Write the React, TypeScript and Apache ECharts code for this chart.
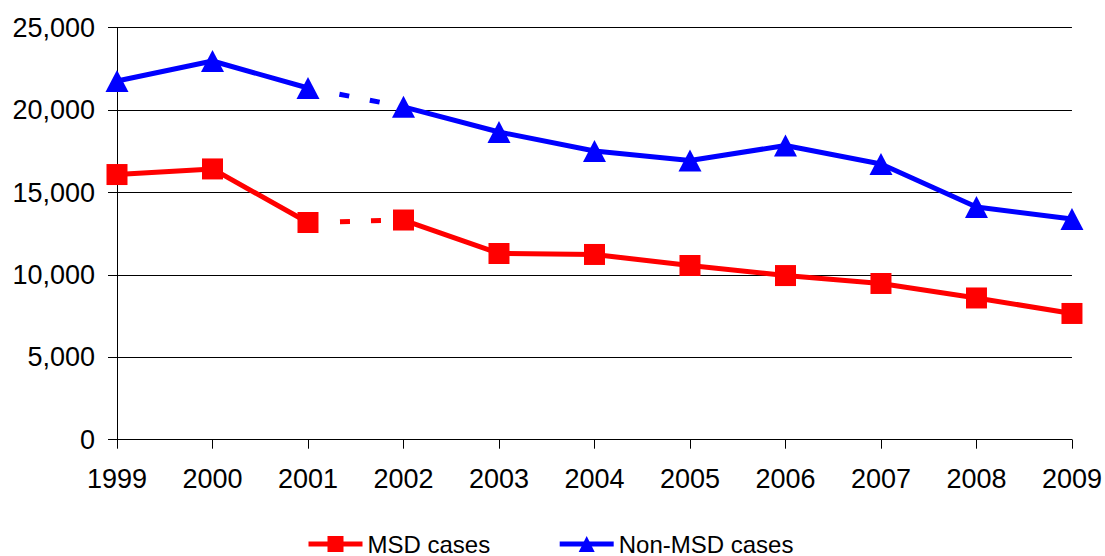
import React, { useEffect, useRef } from "react";
import * as echarts from "echarts";

// Years on the horizontal axis
const years = ["1999", "2000", "2001", "2002", "2003", "2004", "2005", "2006", "2007", "2008", "2009"];

// Case counts per year
const msdCases = [16090, 16430, 13180, 13330, 11300, 11240, 10570, 9960, 9480, 8600, 7660];
const nonMsdCases = [21770, 22980, 21340, 20200, 18670, 17520, 16940, 17850, 16730, 14120, 13390];

// Value axis ticks
const yTicks = [0, 5000, 10000, 15000, 20000, 25000];

// Index where the series break: 2001 -> 2002 is drawn as a dashed bridge
const breakAfter = 2;

const FONT = "'Liberation Sans', Arial, sans-serif";
const RED = "#ff0000";
const BLUE = "#0000ff";

function before(values: number[]) {
  return values.map((v, i) => (i <= breakAfter ? v : null));
}
function after(values: number[]) {
  return values.map((v, i) => (i > breakAfter ? v : null));
}
function bridge(values: number[]) {
  return values.map((v, i) => (i === breakAfter || i === breakAfter + 1 ? v : null));
}

function solid(name: string, data: (number | null)[], color: string, symbol: string, size: number | number[]) {
  return {
    name,
    type: "line",
    data,
    symbol,
    symbolSize: size,
    showSymbol: true,
    connectNulls: false,
    z: 3,
    lineStyle: { color, width: 5 },
    itemStyle: { color, opacity: 1 },
    emphasis: { disabled: true },
  };
}

function dashed(name: string, data: (number | null)[], color: string) {
  return {
    name,
    type: "line",
    data,
    symbol: "none",
    showSymbol: false,
    z: 2,
    lineStyle: { color, width: 5, type: [0, 32, 10, 21, 10, 400], cap: "butt" },
    emphasis: { disabled: true },
  };
}

export default function App() {
  const ref = useRef<HTMLDivElement>(null);

  useEffect(() => {
    if (!ref.current) return;
    const chart = echarts.init(ref.current, undefined, { renderer: "svg" });
    chart.setOption({
      animation: false,
      backgroundColor: "#ffffff",
      textStyle: { fontFamily: FONT },
      grid: { left: 117, right: 32, top: 27.7, bottom: 116.3, containLabel: false },
      legend: {
        data: ["MSD cases", "Non-MSD cases"],
        left: 301,
        top: 527,
        itemWidth: 54,
        itemHeight: 20,
        itemGap: 67,
        lineStyle: { width: 5 },
        textStyle: { fontFamily: FONT, fontSize: 24, color: "#000" },
        selectedMode: false,
      },
      xAxis: {
        type: "category",
        data: years,
        boundaryGap: false,
        axisLine: { lineStyle: { color: "#000", width: 1 } },
        axisTick: { show: true, length: 9, lineStyle: { color: "#000" } },
        axisLabel: { fontFamily: FONT, fontSize: 27, color: "#000", margin: 26 },
        splitLine: { show: false },
      },
      yAxis: {
        type: "value",
        min: yTicks[0],
        max: yTicks[yTicks.length - 1],
        interval: yTicks[1] - yTicks[0],
        axisLine: { show: true, lineStyle: { color: "#000", width: 1 } },
        axisTick: { show: true, length: 9, lineStyle: { color: "#000" } },
        axisLabel: {
          fontFamily: FONT,
          fontSize: 27,
          color: "#000",
          margin: 22,
          formatter: (v: number) => v.toLocaleString("en-US"),
        },
        splitLine: { show: true, lineStyle: { color: "#000", width: 1 } },
      },
      series: [
        solid("MSD cases", before(msdCases), RED, "rect", 21),
        solid("MSD cases", after(msdCases), RED, "rect", 21),
        dashed("MSD bridge", bridge(msdCases), RED),
        solid("Non-MSD cases", before(nonMsdCases), BLUE, "triangle", [23, 22]),
        solid("Non-MSD cases", after(nonMsdCases), BLUE, "triangle", [23, 22]),
        dashed("Non-MSD bridge", bridge(nonMsdCases), BLUE),
      ],
    });
    return () => chart.dispose();
  }, []);

  return (
    <div
      ref={ref}
      style={{ position: "fixed", left: 0, top: 0, width: 1105, height: 556, background: "#fff" }}
    />
  );
}
